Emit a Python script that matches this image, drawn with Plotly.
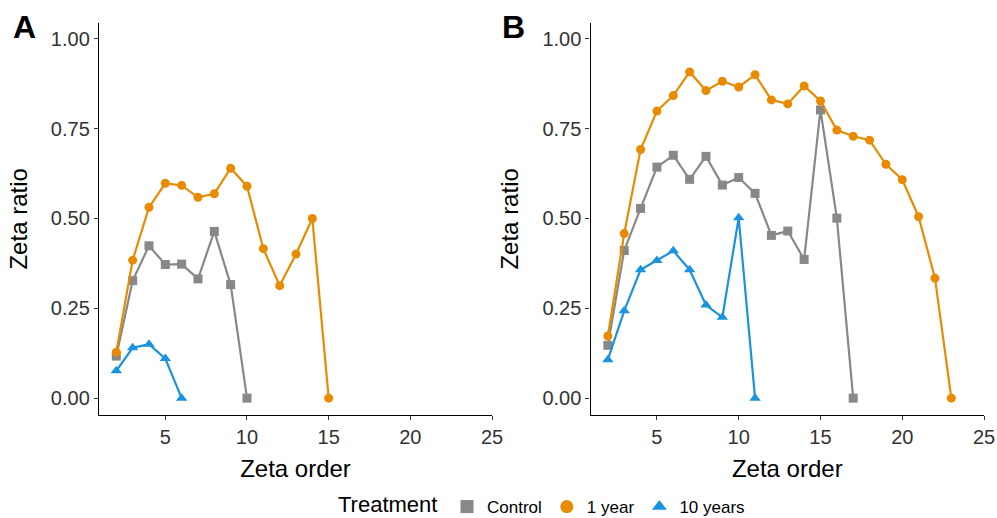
import plotly.graph_objects as go

# ---- data ----
order_A_ctrl = [2, 3, 4, 5, 6, 7, 8, 9, 10]
ratio_A_ctrl = [0.117, 0.327, 0.424, 0.372, 0.373, 0.332, 0.464, 0.316, 0.0]
order_A_1y = [2, 3, 4, 5, 6, 7, 8, 9, 10, 11, 12, 13, 14, 15]
ratio_A_1y = [0.128, 0.384, 0.531, 0.598, 0.592, 0.559, 0.569, 0.640, 0.590, 0.416, 0.313, 0.401, 0.500, 0.0]
order_A_10y = [2, 3, 4, 5, 6]
ratio_A_10y = [0.076, 0.140, 0.150, 0.110, 0.0]

order_B_ctrl = [2, 3, 4, 5, 6, 7, 8, 9, 10, 11, 12, 13, 14, 15, 16, 17]
ratio_B_ctrl = [0.147, 0.411, 0.528, 0.643, 0.676, 0.609, 0.673, 0.593, 0.614, 0.570,
                0.453, 0.465, 0.386, 0.802, 0.501, 0.0]
order_B_1y = list(range(2, 24))
ratio_B_1y = [0.173, 0.458, 0.692, 0.799, 0.842, 0.908, 0.856, 0.882, 0.866, 0.900, 0.830,
              0.819, 0.869, 0.827, 0.746, 0.729, 0.718, 0.651, 0.608, 0.505, 0.334, 0.0]
order_B_10y = [2, 3, 4, 5, 6, 7, 8, 9, 10, 11]
ratio_B_10y = [0.107, 0.243, 0.357, 0.383, 0.410, 0.357, 0.259, 0.225, 0.502, 0.0]

treatments = ["Control", "1 year", "10 years"]
colors = {"Control": "#888888", "1 year": "#E88B00", "10 years": "#1A93DF"}
symbols = {"Control": "square", "1 year": "circle", "10 years": "triangle-up"}
msize = {"Control": 9, "1 year": 9, "10 years": 10}

x_ticks = [5, 10, 15, 20, 25]
y_ticks = [0.0, 0.25, 0.5, 0.75, 1.0]
y_tick_labels = ["0.00", "0.25", "0.50", "0.75", "1.00"]

panels = {
    "A": {"Control": (order_A_ctrl, ratio_A_ctrl), "1 year": (order_A_1y, ratio_A_1y),
          "10 years": (order_A_10y, ratio_A_10y)},
    "B": {"Control": (order_B_ctrl, ratio_B_ctrl), "1 year": (order_B_1y, ratio_B_1y),
          "10 years": (order_B_10y, ratio_B_10y)},
}

FONT = "Liberation Sans, Arial, sans-serif"

fig = go.Figure()
axes = {"A": ("x", "y"), "B": ("x2", "y2")}
for p, series in panels.items():
    xa, ya = axes[p]
    for t in treatments:
        xs, ys = series[t]
        fig.add_trace(go.Scatter(
            x=xs, y=ys, mode="lines+markers", xaxis=xa, yaxis=ya,
            line=dict(color=colors[t], width=2.2),
            marker=dict(color=colors[t], symbol=symbols[t], size=msize[t]),
            showlegend=False, name=t, legendgroup=t, cliponaxis=False))

# legend-only entries (points only, as in ggplot)
for t in treatments:
    fig.add_trace(go.Scatter(
        x=[None], y=[None], mode="markers", name=t, legendgroup=t,
        marker=dict(color=colors[t], symbol=symbols[t], size=13), showlegend=True))

axis_font = dict(family=FONT, size=20, color="#333333")
title_font = dict(family=FONT, size=24, color="#000000")

common_x = dict(range=[0.94, 25], tickvals=x_ticks, ticks="outside", ticklen=4, tickwidth=1.2,
                tickcolor="#333333", showline=True, linecolor="#000000", linewidth=1.4,
                showgrid=False, zeroline=False, tickfont=axis_font, automargin=False,
                title=dict(text="Zeta order", font=title_font, standoff=12))
common_y = dict(range=[-0.047, 1.045], tickvals=y_ticks, ticktext=y_tick_labels, ticks="outside",
                ticklen=4, tickwidth=1.2, tickcolor="#333333", showline=True, linecolor="#000000",
                linewidth=1.4, showgrid=False, zeroline=False, tickfont=axis_font, automargin=False,
                title=dict(text="Zeta ratio", font=title_font, standoff=16))

fig.update_layout(
    width=997, height=518,
    margin=dict(l=0, r=0, t=0, b=0, autoexpand=False),
    paper_bgcolor="white", plot_bgcolor="white",
    xaxis=dict(domain=[0.0993, 0.4935], anchor="y", **common_x),
    yaxis=dict(domain=[0.1988, 0.9562], anchor="x", **common_y),
    xaxis2=dict(domain=[0.5923, 0.9870], anchor="y2", **common_x),
    yaxis2=dict(domain=[0.1988, 0.9562], anchor="x2", **common_y),
    legend=dict(orientation="h", x=447 / 997, xanchor="left", y=1 - 507 / 518, yanchor="middle",
                font=dict(family=FONT, size=17, color="#000000"),
                itemwidth=30, tracegroupgap=0, bgcolor="rgba(0,0,0,0)"),
    annotations=[
        dict(text="<b>A</b>", x=24 / 997, y=1 - 27 / 518, xref="paper", yref="paper",
             showarrow=False, xanchor="center", yanchor="middle",
             font=dict(family=FONT, size=32, color="#000000")),
        dict(text="<b>B</b>", x=513.5 / 997, y=1 - 27 / 518, xref="paper", yref="paper",
             showarrow=False, xanchor="center", yanchor="middle",
             font=dict(family=FONT, size=32, color="#000000")),
        dict(text="Treatment", x=337 / 997, y=1 - 504.5 / 518, xref="paper", yref="paper",
             showarrow=False, xanchor="left", yanchor="middle", borderpad=0,
             font=dict(family=FONT, size=22, color="#000000")),
    ],
)

fig.write_html("out.html", config={"displayModeBar": False},
               post_script="document.body.style.margin='0';document.body.style.overflow='hidden';")
